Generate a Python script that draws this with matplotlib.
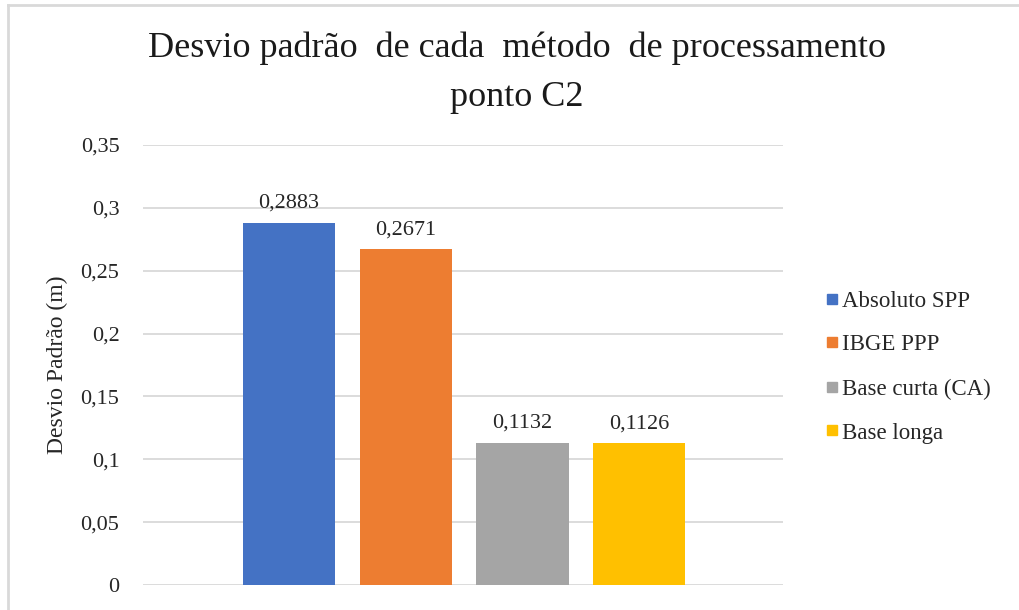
import numpy as np
import matplotlib.pyplot as plt
from matplotlib.ticker import FuncFormatter, MultipleLocator
from matplotlib.lines import Line2D

plt.rcParams['font.family'] = ['Liberation Serif', 'DejaVu Serif']

metodos = ['Absoluto SPP', 'IBGE PPP', 'Base curta (CA)', 'Base longa']
desvios = [0.2883, 0.2671, 0.1132, 0.1126]
cores = ['#4472C4', '#ED7D31', '#A5A5A5', '#FFC000']
rotulos = ['0,2883', '0,2671', '0,1132', '0,1126']

fig = plt.figure(figsize=(10.19, 6.10), dpi=100)
ax = fig.add_axes([143/1019, 1 - 585/610, (783 - 143)/1019, (585 - 145)/610])

x = np.arange(len(metodos))
barras = ax.bar(x, desvios, width=0.79, color=cores, label=metodos, zorder=3)

for xi, v, txt in zip(x, desvios, rotulos):
    ax.annotate(txt, (xi, v), xytext=(0, 7), textcoords='offset points',
                ha='center', va='bottom', fontsize=16, color='#262626')

ax.set_xlim(-1.25, 4.23)
ax.set_ylim(0, 0.35)
ax.yaxis.set_major_locator(MultipleLocator(0.05))
ax.yaxis.set_major_formatter(FuncFormatter(lambda v, p: f'{v:.2f}'.rstrip('0').rstrip('.').replace('.', ',') if v else '0'))
ax.set_xticks([])
ax.tick_params(axis='y', length=0, pad=17, labelsize=16, labelcolor='#262626')
ax.grid(axis='y', color='#D9D9D9', linewidth=1.3, zorder=0)
for s in ax.spines.values():
    s.set_visible(False)
ax.set_ylabel('Desvio Padrão (m)', fontsize=17, color='#262626', labelpad=9)

fig.text(517/1019, 1 - 48/610, 'Desvio padrão  de cada  método  de processamento',
         ha='center', va='center', fontsize=26, color='#1a1a1a')
fig.text(517/1019, 1 - 97/610, 'ponto C2', ha='center', va='center',
         fontsize=26, color='#1a1a1a')

handles = [Line2D([], [], marker='s', linestyle='none', markersize=6.5,
                  markerfacecolor=c, markeredgecolor=c) for c in cores]
fig.legend(handles, metodos, loc='center left', bbox_to_anchor=(804/1019, 1 - 367/610),
           frameon=False, fontsize=16.5, handletextpad=0.15, labelspacing=1.0,
           handlelength=0.6, labelcolor='#262626')

# moldura cinza (esquerda e topo)
fig.add_artist(Line2D([8/1019, 8/1019], [0, 1 - 5/610], transform=fig.transFigure,
                      color='#D9D9D9', linewidth=2))
fig.add_artist(Line2D([8/1019, 1], [1 - 5/610, 1 - 5/610], transform=fig.transFigure,
                      color='#D9D9D9', linewidth=2))

fig.savefig('out.png', dpi=100)
